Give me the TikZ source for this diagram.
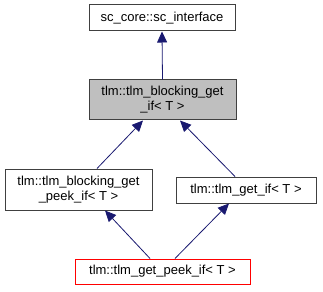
\documentclass[tikz,border=0pt]{standalone}
\usepackage{fontspec}
\setmainfont{Liberation Sans}
\usetikzlibrary{arrows.meta,calc}
\definecolor{edgeblue}{HTML}{191970}
\definecolor{boxgray}{HTML}{BFBFBF}
\definecolor{boxline}{HTML}{404040}
\begin{document}
\begin{tikzpicture}[x=1pt,y=-1pt,
  cls/.style={draw=boxline,line width=1pt,fill=white,inner sep=0pt,align=center,
    font=\fontsize{13}{15}\selectfont},
  inherit/.style={draw=edgeblue,line width=0.8pt,
    -{Triangle[length=11pt,width=10pt,fill=edgeblue]}}]
\useasboundingbox (0,0) rectangle (323,291);
\node[cls,minimum width=146pt,minimum height=26pt] (sci) at (162,18) {sc\_core::sc\_interface};
\node[cls,fill=boxgray,minimum width=147pt,minimum height=40pt] (bg) at (162.5,100) {tlm::tlm\_blocking\_get\\\_if< T >};
\node[cls,minimum width=147pt,minimum height=41pt] (bgp) at (78.5,189.5) {tlm::tlm\_blocking\_get\\\_peek\_if< T >};
\node[cls,minimum width=140pt,minimum height=26pt] (gi) at (246,190) {tlm::tlm\_get\_if< T >};
\node[cls,draw=red,minimum width=175pt,minimum height=25pt] (gpi) at (162.5,271.5) {tlm::tlm\_get\_peek\_if< T >};
\draw[inherit] (bg.north) -- (sci.south);
\draw[inherit] ($(bgp.north)+(18.5,0)$) -- ($(bg.south)+(-19.5,0)$);
\draw[inherit] ($(gi.north)+(-11,0)$) -- ($(bg.south)+(17.5,0)$);
\draw[inherit] ($(gpi.north)+(-12.5,0)$) -- ($(bgp.south)+(26.5,0)$);
\draw[inherit] ($(gpi.north)+(12.5,0)$) -- ($(gi.south)+(-17,0)$);
\end{tikzpicture}
\end{document}
